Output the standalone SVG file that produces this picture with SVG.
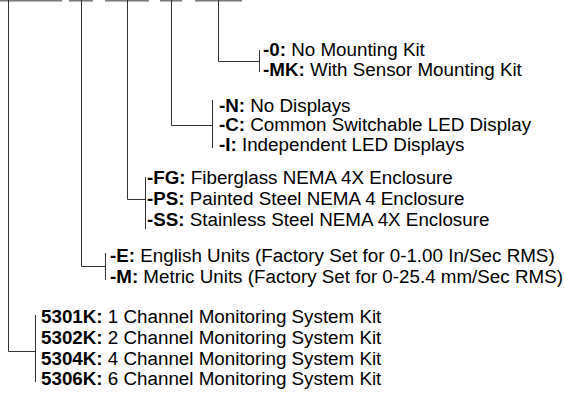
<svg xmlns="http://www.w3.org/2000/svg" width="564" height="394" viewBox="0 0 564 394">
<style>
text{font-family:"Liberation Sans",Arial,sans-serif;font-size:18.8px;fill:#000}
.b{font-weight:bold}
.ln{stroke:#333;stroke-width:1;fill:none}
.bar{stroke:#777;stroke-width:2;fill:none}
</style>
<rect width="564" height="394" fill="#fff"/>
<g id="connectors">
<path class="bar" d="M0 0.5H62M69 0.5H93M105 0.5H149M160 0.5H182M195 0.5H242"/>
<path class="ln" d="M218.5 0V61.5H259.5M259.5 50V72"/>
<path class="ln" d="M171.5 0V125.5H212.5M212.5 100V148"/>
<path class="ln" d="M127.5 0V199.5H145.5M145.5 177V229"/>
<path class="ln" d="M81.5 0V266.5H105.5M105.5 253V280"/>
<path class="ln" d="M8.5 0V351.5H35.5M35.5 315V382"/>
</g>
<g id="node-mounting">
<text x="263" y="56"><tspan class="b">-0:</tspan> No Mounting Kit</text>
<text x="263" y="76"><tspan class="b">-MK:</tspan> With Sensor Mounting Kit</text>
</g>
<g id="node-display">
<text x="219" y="111.5"><tspan class="b">-N:</tspan> No Displays</text>
<text x="219" y="131"><tspan class="b">-C:</tspan> Common Switchable LED Display</text>
<text x="219" y="150.5"><tspan class="b">-I:</tspan> Independent LED Displays</text>
</g>
<g id="node-enclosure">
<text x="147" y="183.5"><tspan class="b">-FG:</tspan> Fiberglass NEMA 4X Enclosure</text>
<text x="147" y="204.5"><tspan class="b">-PS:</tspan> Painted Steel NEMA 4 Enclosure</text>
<text x="147" y="225.5"><tspan class="b">-SS:</tspan> Stainless Steel NEMA 4X Enclosure</text>
</g>
<g id="node-units">
<text x="110" y="262"><tspan class="b">-E:</tspan> English Units (Factory Set for 0-1.00 In/Sec RMS)</text>
<text x="110" y="283"><tspan class="b">-M:</tspan> Metric Units (Factory Set for 0-25.4 mm/Sec RMS)</text>
</g>
<g id="node-kit">
<text x="41" y="323"><tspan class="b">5301K:</tspan> 1 Channel Monitoring System Kit</text>
<text x="41" y="344"><tspan class="b">5302K:</tspan> 2 Channel Monitoring System Kit</text>
<text x="41" y="365"><tspan class="b">5304K:</tspan> 4 Channel Monitoring System Kit</text>
<text x="41" y="385"><tspan class="b">5306K:</tspan> 6 Channel Monitoring System Kit</text>
</g>
</svg>
